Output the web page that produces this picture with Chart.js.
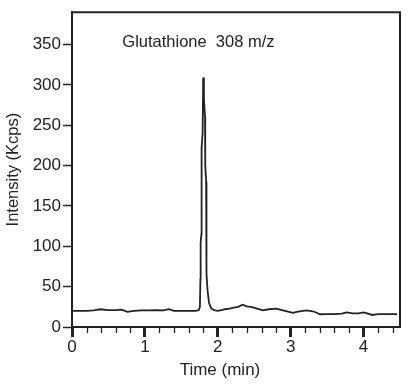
<!DOCTYPE html>
<html>
<head>
<meta charset="utf-8">
<script src="https://cdn.jsdelivr.net/npm/chart.js@4/dist/chart.umd.min.js"></script>
<style>
  html, body { margin: 0; padding: 0; background: #fff; }
  #wrap { width: 410px; height: 385px; position: relative; }
</style>
</head>
<body>
<div id="wrap"><canvas id="c" width="410" height="385"></canvas></div>
<script>
// Retention time (min)
const timeMin = [0, 0.1, 0.2, 0.3, 0.39, 0.5, 0.6, 0.68, 0.76, 0.85, 0.95, 1.05, 1.15, 1.25, 1.33, 1.4, 1.5, 1.6, 1.7,
  1.74, 1.755, 1.762, 1.765, 1.775, 1.778, 1.792, 1.80, 1.81, 1.815, 1.825, 1.828, 1.84, 1.845, 1.86, 1.88, 1.91, 1.95,
  2.0, 2.05, 2.1, 2.16, 2.22, 2.28, 2.34, 2.4, 2.47, 2.55, 2.62, 2.7, 2.8, 2.88, 2.95, 3.03, 3.1,
  3.22, 3.3, 3.35, 3.40, 3.5, 3.6, 3.7, 3.77, 3.85, 3.93, 4.0, 4.05, 4.12, 4.2, 4.3, 4.4, 4.46];
// Intensity (Kcps)
const intensity = [20, 20, 20, 20.5, 22, 21, 21, 21.5, 18.7, 20, 20.5, 20.5, 21, 20.5, 22, 20, 20, 20, 20,
  21, 25, 60, 104, 115, 222, 240, 309, 282, 275, 260, 201, 180, 66, 45, 30, 23, 21,
  20, 21, 22, 22.8, 24, 25, 27.7, 25.5, 24.5, 22.5, 20.7, 22, 22.8, 21, 19.5, 17.5, 19,
  20.7, 19.5, 18, 15.8, 16, 16, 16.5, 18, 17, 17, 18, 17, 14.9, 16, 16, 16, 16];
const xTitle = 'Time (min)';
const yTitle = 'Intensity (Kcps)';
const annotation = 'Glutathione  308 m/z';
const yTickValues = [0, 50, 100, 150, 200, 250, 300, 350];
const xMajorTicks = [0, 1, 2, 3, 4];
const xMinorStep = 0.2;

const points = timeMin.map((t, i) => ({ x: t, y: intensity[i] }));
const ink = '#222';
const FONT = 'Liberation Sans, Arial, sans-serif';

const framePlugin = {
  id: 'frame',
  afterDraw(chart) {
    const { ctx, chartArea: a } = chart;
    const xs = chart.scales.x, ys = chart.scales.y;
    ctx.save();
    ctx.strokeStyle = ink;
    ctx.lineWidth = 2;
    ctx.beginPath();
    ctx.moveTo(a.left, a.top);
    ctx.lineTo(a.right, a.top);
    ctx.lineTo(a.right, a.bottom);
    ctx.stroke();
    // minor x ticks
    ctx.lineWidth = 1.3;
    ctx.beginPath();
    for (let k = 1; k * xMinorStep < xs.max + 1e-9; k++) {
      const v = k * xMinorStep;
      if (Math.abs(v - Math.round(v)) < 1e-6) continue;
      const px = Math.round(xs.getPixelForValue(v)) + 0.5;
      ctx.moveTo(px, a.bottom);
      ctx.lineTo(px, a.bottom + 6);
    }
    ctx.stroke();
    // annotation text
    ctx.fillStyle = ink;
    ctx.font = '16.5px ' + FONT;
    ctx.textBaseline = 'middle';
    ctx.textAlign = 'left';
    ctx.fillText(annotation, xs.getPixelForValue(0.69), ys.getPixelForValue(353));
    // x axis title
    ctx.font = '17px ' + FONT;
    ctx.textAlign = 'center';
    ctx.fillText(xTitle, xs.getPixelForValue(2.03), 370);
    ctx.restore();
  }
};

new Chart(document.getElementById('c'), {
  type: 'line',
  data: {
    datasets: [{
      data: points,
      borderColor: ink,
      borderWidth: 1.8,
      pointRadius: 0,
      tension: 0,
      fill: false
    }]
  },
  options: {
    responsive: false,
    animation: false,
    events: [],
    layout: { padding: { top: 6, right: 10, left: 0, bottom: 0 } },
    plugins: { legend: { display: false }, tooltip: { enabled: false } },
    scales: {
      x: {
        type: 'linear',
        min: 0, max: 4.5,
        afterFit(s) { s.height = 58; },
        afterBuildTicks(s) { s.ticks = xMajorTicks.map(v => ({ value: v })); },
        border: { color: ink, width: 2 },
        grid: { drawOnChartArea: false, drawTicks: true, tickLength: 10, tickColor: ink, tickWidth: 3 },
        ticks: {
          autoSkip: false, maxRotation: 0, padding: 0,
          color: ink, font: { family: FONT, size: 17 }
        },
        title: { display: false }
      },
      y: {
        type: 'linear',
        min: 0, max: 390,
        afterFit(s) { s.width = 72; },
        afterBuildTicks(s) { s.ticks = yTickValues.map(v => ({ value: v })); },
        border: { color: ink, width: 2 },
        grid: { drawOnChartArea: false, drawTicks: true, tickLength: 9, tickColor: ink, tickWidth: 1.5 },
        ticks: { color: ink, padding: 2, font: { family: FONT, size: 17 } },
        title: { display: true, text: yTitle, color: ink, font: { family: FONT, size: 16.5 }, padding: { top: 4, bottom: 0 } }
      }
    }
  },
  plugins: [framePlugin]
});
</script>
</body>
</html>
